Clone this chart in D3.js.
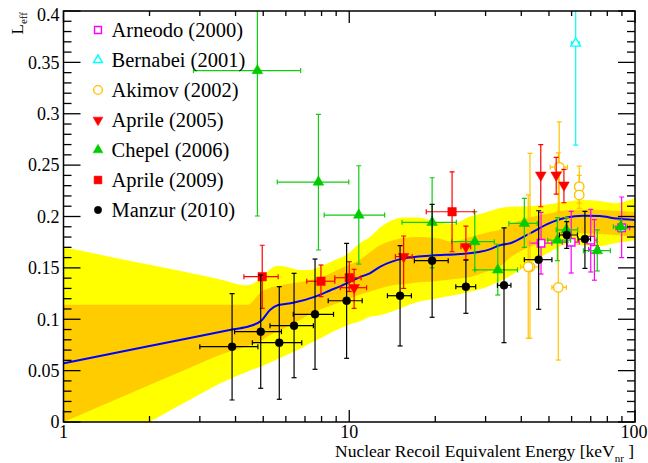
<!DOCTYPE html>
<html><head><meta charset="utf-8">
<script src="https://cdn.jsdelivr.net/npm/d3@7"></script>
<style>
html,body{margin:0;padding:0;background:#fff;}
svg{display:block;}
</style></head>
<body>
<svg id="c" width="648" height="463"></svg>
<script>
// ---------- data ----------
const xTickValues = [1, 10, 100];
const xTickLabels = ["1", "10", "100"];
const yTickValues = [0, 0.05, 0.1, 0.15, 0.2, 0.25, 0.3, 0.35, 0.4];
const yTickLabels = ["0", "0.05", "0.1", "0.15", "0.2", "0.25", "0.3", "0.35", "0.4"];

// band grid (keV) and 1σ / 2σ band edges
const bandX     = [1, 2, 3, 3.5, 4.4, 4.9, 5.3, 5.6, 6.0, 6.7, 7.3, 8.0, 8.8, 9.8, 10.9, 11.8, 12.8, 14.3, 15.5, 17.5, 20, 23, 26.5, 30, 33.6, 37, 43, 50, 58, 66, 75, 85, 100];
const yellowHi  = [0.170, 0.153, 0.143, 0.139, 0.133, 0.140, 0.149, 0.152, 0.151, 0.148, 0.148, 0.152, 0.157, 0.163, 0.174, 0.180, 0.189, 0.197, 0.199, 0.199, 0.195, 0.193, 0.200, 0.204, 0.208, 0.2095, 0.210, 0.212, 0.2145, 0.216, 0.215, 0.213, 0.218];
const orangeHi  = [0.114, 0.114, 0.114, 0.114, 0.114, 0.126, 0.131, 0.132, 0.134, 0.136, 0.138, 0.141, 0.146, 0.152, 0.158, 0.165, 0.172, 0.177, 0.179, 0.180, 0.179, 0.1755, 0.180, 0.184, 0.187, 0.193, 0.199, 0.203, 0.206, 0.2065, 0.2063, 0.2055, 0.2046];
const orangeLo  = [0.0, 0.036, 0.057, 0.065, 0.074, 0.079, 0.085, 0.088, 0.092, 0.099, 0.105, 0.110, 0.114, 0.119, 0.124, 0.127, 0.130, 0.1333, 0.134, 0.136, 0.137, 0.139, 0.141, 0.146, 0.151, 0.161, 0.1706, 0.177, 0.182, 0.1836, 0.183, 0.182, 0.180];
const yellowLo  = [-0.045, 0.0, 0.027, 0.037, 0.049, 0.054, 0.058, 0.061, 0.065, 0.071, 0.0766, 0.082, 0.088, 0.094, 0.098, 0.1025, 0.104, 0.108, 0.112, 0.117, 0.120, 0.123, 0.127, 0.131, 0.137, 0.143, 0.1544, 0.165, 0.173, 0.172, 0.171, 0.174, 0.177];

// best-fit curve
const fitX = [1, 2, 3, 3.93, 4.49, 4.94, 5.28, 5.64, 6.36, 7.6, 8.56, 9.8, 10.9, 11.8, 12.8, 15.4, 19.5, 24.4, 28.7, 31, 33.6, 36.6, 42.9, 50, 57.6, 65.8, 75.3, 86.1, 100];
const fitY = [0.0571, 0.0739, 0.0837, 0.0902, 0.0934, 0.099, 0.109, 0.1138, 0.116, 0.122, 0.128, 0.135, 0.141, 0.1447, 0.151, 0.159, 0.162, 0.1635, 0.1657, 0.168, 0.172, 0.174, 0.1836, 0.1933, 0.199, 0.2007, 0.2004, 0.198, 0.1966];

// measurements: [E, Leff, E_lo, E_hi, L_lo, L_hi]
const arneodo = [
  [46.9, 0.174, 42.8, 51.2, 0.144, 0.204],
  [59.8, 0.175, 55.7, 63.8, 0.145, 0.205],
  [70.0, 0.177, 67.0, 73.5, 0.146, 0.207],
  [72.1, 0.168, 68.8, 75.0, 0.138, 0.197],
  [89.8, 0.189, 85.8, 95.8, 0.160, 0.219]
];
const bernabei = [
  [62.0, 0.3685, 60.0, 63.7, 0.2695, 0.48]
];
const akimov = [
  [42.9, 0.151, 39.8, 46.1, 0.0815, 0.2615],
  [42.3, 0.151, 42.3, 42.3, 0.0815, 0.221],
  [53.9, 0.131, 51.2, 57.5, 0.0603, 0.262],
  [54.3, 0.248, 50.5, 58.0, 0.205, 0.292],
  [63.8, 0.229, 61.6, 66.0, 0.213, 0.249],
  [63.8, 0.221, 61.6, 66.0, 0.208, 0.240]
];
const aprile2005 = [
  [10.4, 0.1307, 9.3, 11.5, 0.1106, 0.1486],
  [15.5, 0.161, 14.5, 16.6, 0.130, 0.181],
  [25.6, 0.1706, 24.6, 26.6, 0.158, 0.1907],
  [46.8, 0.2403, 46.8, 46.8, 0.2095, 0.270],
  [53.0, 0.2403, 53.0, 53.0, 0.2218, 0.2576],
  [56.4, 0.2306, 56.4, 56.4, 0.2134, 0.2459]
];
const chepel = [
  [4.77, 0.342, 2.85, 6.76, 0.2005, 0.48],
  [7.80, 0.2335, 5.6, 9.96, 0.1674, 0.2994],
  [10.8, 0.2014, 8.17, 13.3, 0.1537, 0.2494],
  [19.5, 0.1943, 15.3, 23.7, 0.150, 0.2377],
  [27.5, 0.1755, 22.8, 32.2, 0.148, 0.2047],
  [33.1, 0.148, 27.5, 38.8, 0.1236, 0.173],
  [41.0, 0.1933, 36.2, 45.5, 0.170, 0.2177],
  [53.5, 0.177, 49.5, 59.5, 0.157, 0.199],
  [57.5, 0.187, 53.0, 63.0, 0.175, 0.199],
  [73.8, 0.1667, 66.0, 82.0, 0.147, 0.187],
  [89.1, 0.190, 84.0, 94.0, 0.185, 0.1966]
];
const aprile2009 = [
  [4.96, 0.1414, 4.28, 5.64, 0.1106, 0.172],
  [7.96, 0.137, 7.1, 8.9, 0.122, 0.1528],
  [10.0, 0.1404, 8.9, 11.0, 0.127, 0.156],
  [22.9, 0.2046, 18.6, 27.4, 0.1657, 0.2435]
];
const manzur = [
  [3.89, 0.0733, 3.0, 4.79, 0.0214, 0.125],
  [4.90, 0.0879, 3.97, 5.79, 0.0328, 0.143],
  [5.69, 0.0772, 4.58, 6.82, 0.0221, 0.1317],
  [6.41, 0.0937, 5.28, 7.49, 0.0431, 0.1447],
  [7.59, 0.1048, 6.37, 8.81, 0.0513, 0.1586],
  [9.79, 0.118, 8.44, 11.1, 0.062, 0.1739],
  [15.06, 0.1229, 13.6, 16.5, 0.074, 0.1716],
  [19.5, 0.157, 16.9, 22.2, 0.1019, 0.2118],
  [25.6, 0.1317, 23.6, 27.7, 0.1058, 0.1576],
  [34.8, 0.133, 33.0, 36.8, 0.0772, 0.189],
  [46.0, 0.158, 41.0, 51.2, 0.1097, 0.2056],
  [57.7, 0.182, 54.4, 62.9, 0.169, 0.195],
  [66.8, 0.178, 63.2, 69.9, 0.1495, 0.205]
];
const legendLabels = ["Arneodo (2000)", "Bernabei (2001)", "Akimov (2002)", "Aprile (2005)", "Chepel (2006)", "Aprile (2009)", "Manzur (2010)"];

// ---------- drawing ----------
const FONT = "'Liberation Serif', 'Tinos', 'Nimbus Roman', 'Times New Roman', 'DejaVu Serif', serif";
const svg = d3.select("#c").attr("font-family", FONT);
const L = 63.5, R = 635, T = 11, B = 422;
const x = d3.scaleLog().domain([1, 100]).range([L, R]);
const y = d3.scaleLinear().domain([0, 0.4]).range([B, T]);

svg.append("defs").append("clipPath").attr("id", "clip")
  .append("rect").attr("x", L).attr("y", T).attr("width", R - L).attr("height", B - T);
const plot = svg.append("g").attr("clip-path", "url(#clip)");

const bandIdx = d3.range(bandX.length);
const area = (hi, lo) => d3.area().x(i => x(bandX[i])).y0(i => y(lo[i])).y1(i => y(hi[i])).curve(d3.curveMonotoneX);
plot.append("path").attr("d", area(yellowHi, yellowLo)(bandIdx)).attr("fill", "#ffff00");
plot.append("path").attr("d", area(orangeHi, orangeLo)(bandIdx)).attr("fill", "#ffcc00");

const fitLine = d3.line().x(i => x(fitX[i])).y(i => y(fitY[i])).curve(d3.curveMonotoneX);
plot.append("path").attr("d", fitLine(d3.range(fitX.length)))
  .attr("fill", "none").attr("stroke", "#0000ff").attr("stroke-width", 2);

const series = [
  {data: arneodo,    color: "#ff00ff", line: "#ff00ff", sym: d3.symbolSquare,   size: 56, fill: false},
  {data: bernabei,   color: "#00ffff", line: "#00ffff", sym: d3.symbolTriangle, size: 40, fill: false},
  {data: akimov,     color: "#ffc400", line: "#ffc400", sym: d3.symbolCircle,   size: 70, fill: false},
  {data: aprile2005, color: "#ff0000", line: "#ff0000", sym: d3.symbolTriangle, size: 50, fill: true, down: true},
  {data: chepel,     color: "#00cc00", line: "#11cc11", sym: d3.symbolTriangle, size: 50, fill: true},
  {data: aprile2009, color: "#ff0000", line: "#ff0000", sym: d3.symbolSquare,   size: 72, fill: true},
  {data: manzur,     color: "#000000", line: "#000000", sym: d3.symbolCircle,   size: 50, fill: true}
];

const cap = 2.5;
series.forEach(s => {
  const g = plot.append("g");
  s.data.forEach(d => {
    const px = x(d[0]), py = y(d[1]);
    const eg = g.append("g").attr("stroke", s.line).attr("stroke-width", 1.2);
    if (d[2] !== d[3]) {
      eg.append("line").attr("x1", x(d[2])).attr("x2", x(d[3])).attr("y1", py).attr("y2", py);
      eg.append("line").attr("x1", x(d[2])).attr("x2", x(d[2])).attr("y1", py - cap).attr("y2", py + cap);
      eg.append("line").attr("x1", x(d[3])).attr("x2", x(d[3])).attr("y1", py - cap).attr("y2", py + cap);
    }
    eg.append("line").attr("x1", px).attr("x2", px).attr("y1", y(d[4])).attr("y2", y(d[5]));
    eg.append("line").attr("x1", px - cap).attr("x2", px + cap).attr("y1", y(d[4])).attr("y2", y(d[4]));
    eg.append("line").attr("x1", px - cap).attr("x2", px + cap).attr("y1", y(d[5])).attr("y2", y(d[5]));
  });
  s.data.forEach(d => {
    g.append("path").attr("d", d3.symbol().type(s.sym).size(s.size)())
      .attr("transform", `translate(${x(d[0])},${y(d[1])})` + (s.down ? " rotate(180)" : ""))
      .attr("fill", s.fill ? s.color : "#ffffff")
      .attr("stroke", s.color).attr("stroke-width", s.fill ? 0.5 : 1.4);
  });
});

// frame
svg.append("rect").attr("x", L).attr("y", T).attr("width", R - L).attr("height", B - T)
  .attr("fill", "none").attr("stroke", "#000").attr("stroke-width", 1.5);

// y ticks (left and right)
const yMinor = d3.range(0, 0.4001, 0.01);
const ax = svg.append("g").attr("stroke", "#000").attr("stroke-width", 1.3);
yMinor.forEach(v => {
  const major = yTickValues.some(t => Math.abs(t - v) < 1e-6);
  const len = major ? 17 : 8;
  ax.append("line").attr("x1", L).attr("x2", L + len).attr("y1", y(v)).attr("y2", y(v));
  ax.append("line").attr("x1", R).attr("x2", R - len).attr("y1", y(v)).attr("y2", y(v));
});
// x ticks (bottom and top)
const xMinor = [];
[1, 10].forEach(dec => { for (let k = 2; k <= 9; k++) xMinor.push(dec * k); });
xMinor.forEach(v => {
  ax.append("line").attr("x1", x(v)).attr("x2", x(v)).attr("y1", B).attr("y2", B - 6);
  ax.append("line").attr("x1", x(v)).attr("x2", x(v)).attr("y1", T).attr("y2", T + 5);
});
xTickValues.forEach(v => {
  ax.append("line").attr("x1", x(v)).attr("x2", x(v)).attr("y1", B).attr("y2", B - 12);
  ax.append("line").attr("x1", x(v)).attr("x2", x(v)).attr("y1", T).attr("y2", T + 12);
});

// tick labels
yTickValues.forEach((v, i) => {
  svg.append("text").attr("x", 59.5).attr("y", Math.max(y(v), 15)).attr("dy", "0.35em")
    .attr("font-family", FONT).attr("text-anchor", "end").attr("font-size", 18).text(yTickLabels[i]);
});
xTickValues.forEach((v, i) => {
  svg.append("text").attr("x", x(v) + (i === 2 ? -1 : 0)).attr("y", 438)
    .attr("font-family", FONT).attr("text-anchor", "middle").attr("font-size", 18).text(xTickLabels[i]);
});

// axis titles
const xt = svg.append("text").attr("x", 634).attr("y", 457).attr("text-anchor", "end")
  .attr("font-family", FONT).attr("font-size", 17.5);
xt.append("tspan").text("Nuclear Recoil Equivalent Energy [keV");
xt.append("tspan").attr("dy", 5).attr("font-size", 11).text("nr");
xt.append("tspan").attr("dy", -5).text(" ]");

const yt = svg.append("text").attr("transform", "translate(23,12) rotate(-90)").attr("text-anchor", "end")
  .attr("font-family", FONT).attr("font-size", 17);
yt.append("tspan").text("L");
yt.append("tspan").attr("dy", 4).attr("font-size", 11).text("eff");

// legend
const leg = svg.append("g");
series.forEach((s, i) => {
  const ly = 30 + i * 30;
  leg.append("path").attr("d", d3.symbol().type(s.sym).size(s.size * 0.85)())
    .attr("transform", `translate(98,${ly})` + (s.down ? " rotate(180)" : ""))
    .attr("fill", s.fill ? s.color : "#ffffff")
    .attr("stroke", s.color).attr("stroke-width", s.fill ? 0.5 : 1.4);
  leg.append("text").attr("x", 111.5).attr("y", ly).attr("dy", "0.35em")
    .attr("font-family", FONT).attr("font-size", 20.5).text(legendLabels[i]);
});
</script>
</body></html>
